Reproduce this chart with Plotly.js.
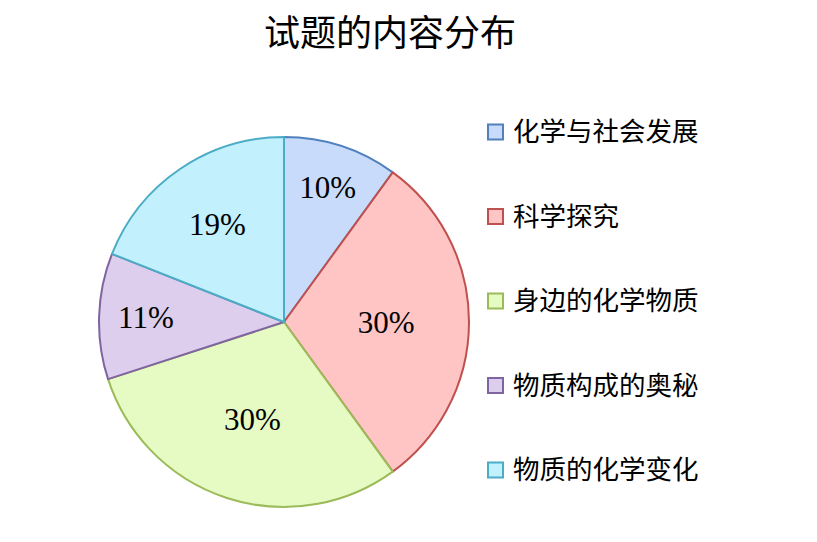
<!DOCTYPE html>
<html>
<head>
<meta charset="utf-8">
<script src="https://cdn.plot.ly/plotly-3.0.1.min.js"></script>
<style>
  html, body { margin: 0; padding: 0; background: #fff; }
  #chart { width: 817px; height: 542px; }
</style>
</head>
<body>
<div id="chart"></div>
<script>
const categories = ['化学与社会发展', '科学探究', '身边的化学物质', '物质构成的奥秘', '物质的化学变化'];
const shares = [10, 30, 30, 11, 19];
const fillColors = ['#C9DBFA', '#FFC4C4', '#E6FAC4', '#DCCEEC', '#C2F0FC'];
const lineColors = ['#4F81BD', '#C0504D', '#9BBB59', '#8064A2', '#4BACC6'];

const W = 817, H = 542;
const FONT = '"Liberation Serif", "Noto Sans CJK SC", serif';

// legend drawn by hand so the items can be spread out like the original
const legendTop = 132, legendStep = 84.5;
const shapes = [];
const annotations = [];
categories.forEach(function (name, i) {
    const cy = legendTop + i * legendStep;
    shapes.push({
        type: 'rect', xref: 'paper', yref: 'paper',
        x0: 488 / W, x1: 503 / W,
        y0: 1 - (cy + 7.5) / H, y1: 1 - (cy - 7.5) / H,
        fillcolor: fillColors[i],
        line: { color: lineColors[i], width: 2 }
    });
    annotations.push({
        xref: 'paper', yref: 'paper',
        x: 511 / W, y: 1 - cy / H,
        xanchor: 'left', yanchor: 'middle',
        text: name, showarrow: false,
        font: { family: FONT, size: 26.5, color: '#000' }
    });
});

const data = [{
    type: 'pie',
    labels: categories,
    values: shares,
    sort: false,
    direction: 'clockwise',
    rotation: 0,
    textinfo: 'percent',
    texttemplate: '%{value}%',
    textposition: 'inside',
    insidetextorientation: 'horizontal',
    textfont: { family: FONT, size: 31, color: '#000' },
    marker: {
        colors: fillColors,
        line: { color: lineColors, width: 2 }
    },
    domain: { x: [99 / W, 469 / W], y: [1 - 507 / H, 1 - 137 / H] },
    showlegend: false,
    hoverinfo: 'label+percent'
}];

const layout = {
    width: W,
    height: H,
    title: {
        text: '试题的内容分布',
        font: { family: FONT, size: 36, color: '#000' },
        x: 390 / W, xanchor: 'center',
        y: 1 - 33 / H, yanchor: 'middle'
    },
    showlegend: false,
    shapes: shapes,
    annotations: annotations,
    paper_bgcolor: '#ffffff',
    margin: { l: 0, r: 0, t: 0, b: 0 }
};

Plotly.newPlot('chart', data, layout, { displayModeBar: false });
</script>
</body>
</html>
